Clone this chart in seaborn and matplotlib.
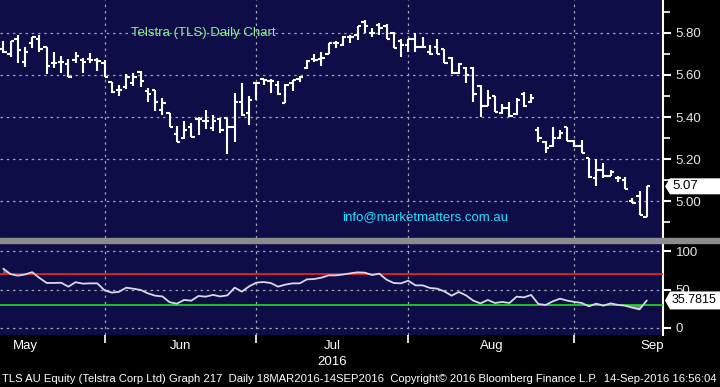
import numpy as np
import pandas as pd
import matplotlib
matplotlib.use("Agg")
import matplotlib.pyplot as plt
import matplotlib.transforms as mtransforms
from matplotlib.patches import Rectangle, Polygon
import seaborn as sns

# ---------------- data ----------------
opens = [5.722, 5.698, 5.770, 5.660, 5.751, 5.771, 5.732, 5.659, 5.660, 5.652,
         5.671, 5.671, 5.675, 5.671, 5.656, 5.565, 5.529, 5.541, 5.563, 5.613,
         5.524, 5.529, 5.433, 5.417, 5.317, 5.298, 5.351, 5.389, 5.381, 5.346,
         5.389, 5.395, 5.351, 5.470, 5.418, 5.560, 5.581, 5.573, 5.552, 5.468,
         5.563, 5.579, 5.632, 5.675, 5.675, 5.698, 5.751, 5.743, 5.783, 5.790,
         5.851, 5.802, 5.838, 5.835, 5.798, 5.762, 5.743, 5.770, 5.732, 5.708,
         5.732, 5.722, 5.679, 5.608, 5.632, 5.632, 5.549, 5.452, 5.500, 5.417,
         5.441, 5.414, 5.510, 5.470, 5.338, 5.283, 5.262, 5.298, 5.351, 5.287,
         5.262, 5.203, 5.108, 5.148, 5.119, 5.108, 5.100, 5.002, 5.025, 4.925]
highs = [5.763, 5.762, 5.790, 5.732, 5.779, 5.790, 5.732, 5.708, 5.692, 5.675,
         5.708, 5.679, 5.703, 5.679, 5.671, 5.565, 5.552, 5.605, 5.608, 5.619,
         5.537, 5.529, 5.489, 5.417, 5.357, 5.381, 5.370, 5.398, 5.433, 5.410,
         5.394, 5.395, 5.516, 5.563, 5.500, 5.568, 5.581, 5.581, 5.571, 5.557,
         5.576, 5.595, 5.671, 5.698, 5.711, 5.751, 5.763, 5.786, 5.790, 5.833,
         5.862, 5.822, 5.849, 5.843, 5.806, 5.770, 5.770, 5.798, 5.783, 5.743,
         5.770, 5.722, 5.687, 5.659, 5.640, 5.640, 5.552, 5.529, 5.500, 5.462,
         5.473, 5.489, 5.521, 5.510, 5.351, 5.287, 5.351, 5.338, 5.351, 5.290,
         5.290, 5.206, 5.198, 5.182, 5.148, 5.119, 5.116, 5.013, 5.048, 5.071]
lows = [5.703, 5.684, 5.659, 5.637, 5.727, 5.711, 5.603, 5.635, 5.608, 5.589,
        5.656, 5.611, 5.656, 5.621, 5.589, 5.513, 5.502, 5.532, 5.549, 5.544,
        5.473, 5.430, 5.410, 5.351, 5.279, 5.294, 5.306, 5.314, 5.341, 5.335,
        5.322, 5.224, 5.282, 5.405, 5.362, 5.481, 5.552, 5.513, 5.505, 5.468,
        5.525, 5.568, 5.627, 5.663, 5.643, 5.698, 5.727, 5.738, 5.754, 5.767,
        5.798, 5.783, 5.790, 5.770, 5.727, 5.687, 5.711, 5.711, 5.732, 5.695,
        5.698, 5.656, 5.605, 5.605, 5.563, 5.473, 5.402, 5.452, 5.425, 5.414,
        5.402, 5.410, 5.449, 5.465, 5.283, 5.230, 5.259, 5.294, 5.287, 5.259,
        5.227, 5.111, 5.071, 5.108, 5.119, 5.092, 5.056, 4.990, 4.933, 4.922]
closes = [5.708, 5.762, 5.721, 5.708, 5.779, 5.722, 5.643, 5.659, 5.660, 5.589,
          5.692, 5.660, 5.671, 5.668, 5.589, 5.517, 5.529, 5.589, 5.592, 5.571,
          5.510, 5.470, 5.465, 5.351, 5.279, 5.338, 5.306, 5.389, 5.381, 5.381,
          5.338, 5.351, 5.470, 5.410, 5.481, 5.560, 5.575, 5.573, 5.508, 5.552,
          5.576, 5.592, 5.668, 5.671, 5.683, 5.751, 5.751, 5.783, 5.783, 5.833,
          5.833, 5.802, 5.822, 5.770, 5.730, 5.743, 5.770, 5.732, 5.732, 5.698,
          5.700, 5.659, 5.608, 5.651, 5.600, 5.510, 5.452, 5.489, 5.425, 5.441,
          5.406, 5.481, 5.452, 5.489, 5.298, 5.251, 5.298, 5.325, 5.287, 5.262,
          5.227, 5.116, 5.148, 5.119, 5.138, 5.108, 5.056, 4.990, 4.933, 5.071]
rsi = [77.0, 70.0, 68.0, 69.5, 72.5, 65.0, 58.5, 58.5, 58.8, 53.7,
       59.5, 57.6, 58.0, 58.0, 49.0, 46.0, 47.0, 52.4, 51.0, 49.4,
       45.0, 42.0, 41.0, 33.5, 31.6, 36.4, 35.5, 41.6, 40.7, 43.0,
       41.0, 42.4, 52.4, 47.2, 54.1, 58.9, 59.7, 58.4, 53.7, 56.3,
       58.0, 58.0, 63.2, 63.6, 65.4, 68.4, 68.4, 69.5, 71.0, 72.3,
       71.9, 68.8, 70.6, 62.8, 58.4, 58.0, 61.4, 55.4, 55.4, 52.0,
       51.1, 47.6, 42.0, 46.8, 42.4, 35.5, 32.0, 36.4, 32.5, 33.8,
       32.5, 40.7, 39.8, 42.9, 31.2, 29.9, 34.6, 38.1, 35.5, 33.8,
       32.5, 28.2, 31.6, 29.0, 32.0, 30.0, 29.0, 26.4, 24.2, 35.7815]
last_price = 5.07
last_rsi = 35.7815

month_names = ["May", "Jun", "Jul", "Aug", "Sep"]
month_start_bars = [14, 35, 56, 79]          # first trading bar of Jun..Sep
month_label_pos = [3.0, 24.5, 45.5, 67.5, 89.7]
price_ticks = [5.00, 5.20, 5.40, 5.60, 5.80]
rsi_ticks = [0, 50, 100]
chart_title = "Telstra (TLS) Daily Chart"
email = "info@marketmatters.com.au"
year_label = "2016"
footer = ("TLS AU Equity (Telstra Corp Ltd) Graph 217  Daily 18MAR2016-14SEP2016  "
          "Copyright\u00a9 2016 Bloomberg Finance L.P.  14-Sep-2016 16:56:04")

# ---------------- style ----------------
sns.set_theme(style="dark")
plt.rcParams["font.family"] = ["Liberation Sans", "DejaVu Sans"]

NAVY = "#0f0d48"
GRID = "#a0a0b0"
TXT = "#e6e6ee"

df = pd.DataFrame({"bar": np.arange(len(closes)), "open": opens, "high": highs,
                   "low": lows, "close": closes, "rsi": rsi})

W, H = 720, 387
fig = plt.figure(figsize=(W / 100, H / 100), dpi=100, facecolor="black")
ax1 = fig.add_axes([0, 1 - 238 / H, 663 / W, 238 / H])
ax2 = fig.add_axes([0, 1 - 335 / H, 663 / W, 92 / H])
fig.patches.append(Rectangle((0, 1 - 243 / H), 1, 5.5 / H, transform=fig.transFigure,
                             color="#8c8c8c", zorder=5))

xlim = (-0.456, 91.24)
for ax in (ax1, ax2):
    ax.set_facecolor(NAVY)
    ax.set_xlim(*xlim)
    for s in ("left", "top", "bottom"):
        ax.spines[s].set_visible(False)
    ax.spines["right"].set_color("white")
    ax.spines["right"].set_linewidth(1.5)
    ax.yaxis.tick_right()
    ax.set_xticks(month_start_bars)
    ax.set_xticklabels([])
    ax.grid(True, color=GRID, linestyle=(0, (2, 3)), linewidth=0.9)
    ax.tick_params(axis="y", colors="white", labelcolor=TXT, length=6, width=1.5,
                   direction="out", labelsize=9.5, pad=3)

# ---- price panel: OHLC bars ----
ax1.set_ylim(4.824, 5.957)
ax1.set_yticks(price_ticks)
ax1.set_yticklabels([f"{v:.2f}" for v in price_ticks])
ax1.set_yticks(np.arange(4.9, 6.0, 0.2), minor=True)
ax1.tick_params(axis="y", which="minor", colors="white", length=5, width=1.2)
ax1.tick_params(axis="x", length=0)

tw = 0.46
ax1.vlines(df["bar"], df["low"], df["high"], color="white", lw=1.5, zorder=3)
ax1.hlines(df["open"], df["bar"] - tw, df["bar"], color="white", lw=1.5, zorder=3)
ax1.hlines(df["close"], df["bar"], df["bar"] + tw, color="white", lw=1.5, zorder=3)

ax1.text(203 / 663, 1 - 33 / 238, chart_title, transform=ax1.transAxes, color="#8cf08c",
         fontsize=9.5, ha="center", va="center")
ax1.text(425 / 663, 1 - 217 / 238, email, transform=ax1.transAxes, color="#22e0ff",
         fontsize=9.5, ha="center", va="center")

# ---- RSI panel ----
sns.lineplot(data=df, x="bar", y="rsi", ax=ax2, color="#d8d8e4", lw=1.3, zorder=4)
rs = np.array(rsi)
ax2.fill_between(df["bar"], rs, 70, where=rs > 70, interpolate=True, color="#8a5868",
                 lw=0, zorder=2)
ax2.fill_between(df["bar"], rs, 30, where=rs < 30, interpolate=True, color="#4f9a68",
                 lw=0, zorder=2)
ax2.axhline(70, color="#ff2222", lw=1.2, zorder=3)
ax2.axhline(30, color="#22dd22", lw=1.2, zorder=3)
ax2.set_ylim(-9.1, 110.4)
ax2.set_yticks(rsi_ticks)
ax2.set_yticklabels([str(v) for v in rsi_ticks])
ax2.set_xlabel("")
ax2.set_ylabel("")
ax2.tick_params(axis="x", colors="white", length=6, width=1.2, direction="out", bottom=True)

trx = mtransforms.blended_transform_factory(ax2.transData, fig.transFigure)
for name, pos in zip(month_names, month_label_pos):
    ax2.text(pos, 1 - 346 / H, name, transform=trx, color="white", fontsize=9.5,
             ha="center", va="center", clip_on=False)
ax2.text(month_label_pos[2], 1 - 362 / H, year_label, transform=trx, color="white",
         fontsize=9.5, ha="center", va="center", clip_on=False)

ft = fig.text(2 / W, 1 - 379.5 / H, footer, color="white", fontsize=8, ha="left",
              va="center")
fig.canvas.draw()
bb = ft.get_window_extent()
if bb.width > 0:
    ft.set_fontsize(min(8.5, 8 * 716 / bb.width))


# ---- last-value tags (white arrow boxes on the right scale) ----
def value_tag(ax, value, label, half_h, size):
    yd = ax.transData.transform((0, value))[1]      # display px from bottom
    pts = [(665, yd), (670, yd - half_h), (W, yd - half_h), (W, yd + half_h),
           (670, yd + half_h)]
    pts = [(px / W, py / H) for px, py in pts]
    fig.patches.append(Polygon(pts, closed=True, transform=fig.transFigure,
                               fc="white", ec="none", zorder=20))
    fig.text(672 / W, yd / H, label, color="black", fontsize=size, ha="left",
             va="center", zorder=21)


value_tag(ax1, last_price, f"{last_price:.2f}", 8, 9.5)
value_tag(ax2, last_rsi, f"{last_rsi:.4f}", 9, 9)

fig.savefig("out.png", dpi=100, facecolor="black")
